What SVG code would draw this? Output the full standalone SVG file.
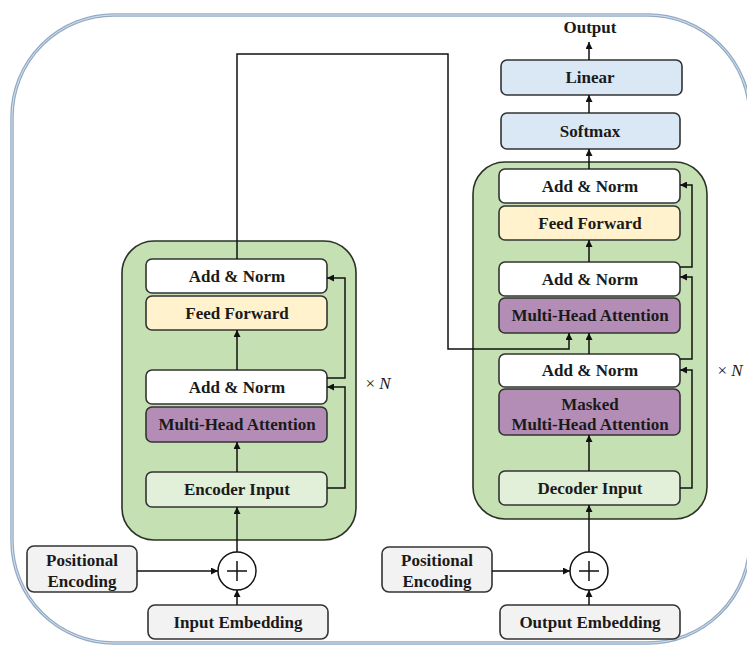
<svg xmlns="http://www.w3.org/2000/svg" width="747" height="645" viewBox="0 0 747 645">
<defs>
<marker id="ah" viewBox="0 0 10 10" refX="10" refY="5" markerUnits="userSpaceOnUse" markerWidth="8" markerHeight="7" orient="auto">
<path d="M0,0 L10,5 L0,10 z" fill="#111"/>
</marker>
<style>
.frame{fill:none;stroke:#93acc6;stroke-width:3.5}
.frame2{fill:none;stroke:#e8eef5;stroke-width:0.8}
.blk{fill:#c5e0b3;stroke:#2a3326;stroke-width:1.6}
.box{stroke:#333;stroke-width:1.6}
.w{fill:#ffffff}
.ff{fill:#fff2cc}
.mha{fill:#b38db5}
.inp{fill:#e2efd9}
.out{fill:#dae7f4}
.gry{fill:#f2f2f2}
text{font-family:"Liberation Serif","Times New Roman",serif;font-weight:bold;font-size:17px;fill:#1a1a1a;text-anchor:middle}
.xn{font-weight:normal}
.it{font-style:italic}
.ln{fill:none;stroke:#111;stroke-width:1.5}
.circ{fill:#fff;stroke:#111;stroke-width:1.5}
</style>
</defs>
<rect class="frame" x="12" y="15" width="738" height="628" rx="102"/>
<rect class="frame2" x="12" y="15" width="738" height="628" rx="102"/>

<g id="encoder-block"><rect class="blk" x="122" y="241" width="234" height="299" rx="32"/></g>
<g id="decoder-block"><rect class="blk" x="473" y="162" width="234" height="357" rx="32"/></g>

<g id="enc-addnorm2"><rect class="box w" x="146" y="259" width="181" height="34" rx="6"/><text x="237" y="282">Add &amp; Norm</text></g>
<g id="enc-ff"><rect class="box ff" x="146" y="296" width="181" height="34" rx="6"/><text x="237" y="319">Feed Forward</text></g>
<g id="enc-addnorm1"><rect class="box w" x="146" y="370" width="181" height="34" rx="6"/><text x="237" y="393">Add &amp; Norm</text></g>
<g id="enc-mha"><rect class="box mha" x="146" y="407" width="181" height="35" rx="6"/><text x="237" y="430">Multi-Head Attention</text></g>
<g id="enc-input"><rect class="box inp" x="146" y="472" width="181" height="35" rx="6"/><text x="237" y="495">Encoder Input</text></g>
<g id="enc-xn"><text x="378" y="389"><tspan class="xn">× </tspan><tspan class="xn it">N</tspan></text></g>

<g id="dec-addnorm3"><rect class="box w" x="499" y="169" width="181" height="34" rx="6"/><text x="590" y="192">Add &amp; Norm</text></g>
<g id="dec-ff"><rect class="box ff" x="499" y="206" width="181" height="34" rx="6"/><text x="590" y="229">Feed Forward</text></g>
<g id="dec-addnorm2"><rect class="box w" x="499" y="262" width="181" height="34" rx="6"/><text x="590" y="285">Add &amp; Norm</text></g>
<g id="dec-mha"><rect class="box mha" x="499" y="298" width="181" height="35" rx="6"/><text x="590" y="321">Multi-Head Attention</text></g>
<g id="dec-addnorm1"><rect class="box w" x="499" y="354" width="181" height="33" rx="6"/><text x="590" y="376">Add &amp; Norm</text></g>
<g id="dec-masked"><rect class="box mha" x="499" y="389" width="181" height="46" rx="6"/><text x="590" y="410">Masked</text><text x="590" y="430">Multi-Head Attention</text></g>
<g id="dec-input"><rect class="box inp" x="499" y="471" width="181" height="34" rx="6"/><text x="590" y="494">Decoder Input</text></g>
<g id="dec-xn"><text x="730" y="376"><tspan class="xn">× </tspan><tspan class="xn it">N</tspan></text></g>

<g id="softmax"><rect class="box out" x="501" y="113" width="179" height="36" rx="6"/><text x="590" y="137">Softmax</text></g>
<g id="linear"><rect class="box out" x="501" y="60" width="181" height="35" rx="6"/><text x="590" y="83">Linear</text></g>
<g id="output"><text x="590" y="33">Output</text></g>

<g id="enc-posenc"><rect class="box gry" x="27" y="546" width="110" height="46" rx="7"/><text x="82" y="566">Positional</text><text x="82" y="587">Encoding</text></g>
<g id="enc-add"><circle class="circ" cx="237" cy="571" r="19"/><path class="ln" d="M227,571 H247 M237,561 V581"/></g>
<g id="input-embedding"><rect class="box gry" x="148" y="605" width="180" height="34" rx="7"/><text x="238" y="628">Input Embedding</text></g>

<g id="dec-posenc"><rect class="box gry" x="382" y="547" width="110" height="45" rx="7"/><text x="437" y="566">Positional</text><text x="437" y="587">Encoding</text></g>
<g id="dec-add"><circle class="circ" cx="589" cy="571" r="19"/><path class="ln" d="M579,571 H599 M589,561 V581"/></g>
<g id="output-embedding"><rect class="box gry" x="500" y="605" width="180" height="34" rx="7"/><text x="590" y="628">Output Embedding</text></g>

<g id="connectors">
<path class="ln" marker-end="url(#ah)" d="M237,605 V590"/>
<path class="ln" marker-end="url(#ah)" d="M137,571 H218"/>
<path class="ln" marker-end="url(#ah)" d="M237,552 V507"/>
<path class="ln" marker-end="url(#ah)" d="M237,472 V442"/>
<path class="ln" marker-end="url(#ah)" d="M237,370 V330"/>
<path class="ln" marker-end="url(#ah)" d="M327,488 H345 V387 H327"/>
<path class="ln" marker-end="url(#ah)" d="M327,378 H345 V278 H327"/>
<path class="ln" marker-end="url(#ah)" d="M237,259 V54 H448 V349 H569 V333"/>

<path class="ln" marker-end="url(#ah)" d="M589,605 V590"/>
<path class="ln" marker-end="url(#ah)" d="M492,571 H570"/>
<path class="ln" marker-end="url(#ah)" d="M589,552 V505"/>
<path class="ln" marker-end="url(#ah)" d="M589,471 V435"/>
<path class="ln" marker-end="url(#ah)" d="M680,488 H692 V370 H680"/>
<path class="ln" marker-end="url(#ah)" d="M589,354 V333"/>
<path class="ln" marker-end="url(#ah)" d="M680,359 H692 V277 H680"/>
<path class="ln" marker-end="url(#ah)" d="M589,262 V240"/>
<path class="ln" marker-end="url(#ah)" d="M680,267 H692 V185 H680"/>
<path class="ln" marker-end="url(#ah)" d="M589,169 V149"/>
<path class="ln" marker-end="url(#ah)" d="M589,113 V95"/>
<path class="ln" marker-end="url(#ah)" d="M589,60 V42"/>
</g>
</svg>
